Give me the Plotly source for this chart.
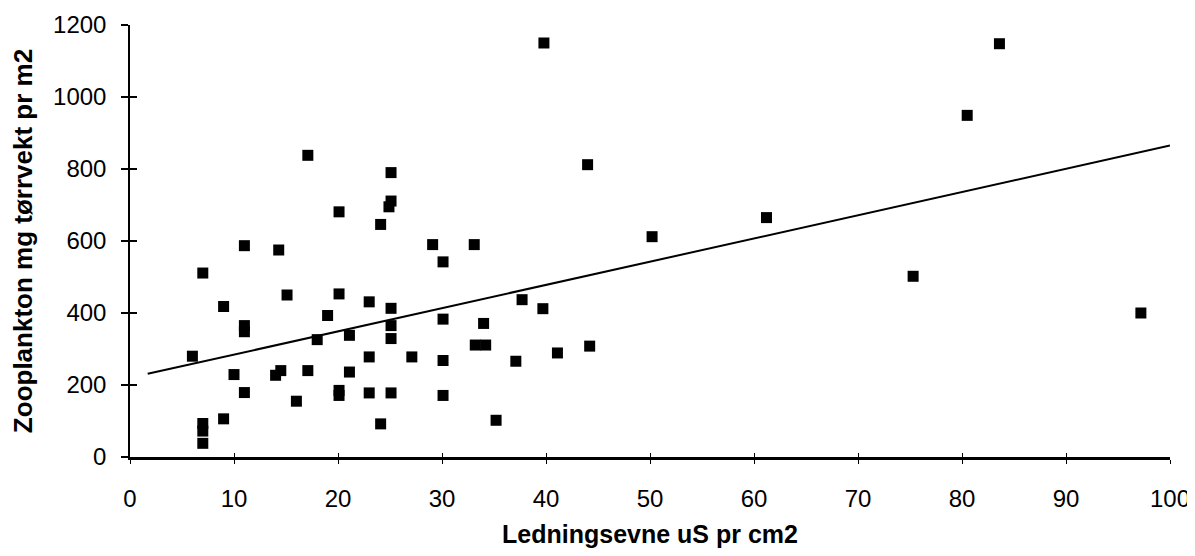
import plotly.graph_objects as go

# Conductivity (uS per cm2) for each sampled lake
conductivity = [17.1, 20.1, 11.0, 14.3, 7.0, 15.1, 20.1, 23.0, 9.0, 19.0,
                11.0, 11.0, 21.1, 18.0, 6.0, 23.0, 10.0, 14.0, 14.5, 17.1,
                21.1, 11.0, 16.0, 20.1, 20.1, 23.0, 9.0, 7.0, 7.0, 7.0,
                25.1, 25.1, 24.9, 24.1, 29.1, 33.1, 30.1, 25.1, 30.1, 25.1,
                34.0, 25.1, 33.2, 34.2, 27.1, 30.1, 25.1, 30.1, 24.1, 35.2,
                39.8, 44.0, 61.2, 50.2, 37.7, 39.7, 37.1, 41.1, 44.2, 75.3,
                80.5, 83.6, 97.2]
# Zooplankton dry weight (mg per m2)
zooplankton = [838, 681, 587, 575, 511, 450, 453, 431, 418, 393,
               365, 348, 338, 326, 280, 278, 229, 227, 240, 240,
               236, 179, 155, 171, 185, 178, 106, 93, 72, 38,
               790, 711, 695, 646, 590, 590, 542, 413, 383, 365,
               371, 329, 311, 311, 278, 268, 178, 171, 92, 102,
               1150, 812, 665, 612, 437, 412, 266, 289, 308, 502,
               949, 1148, 400]

# Linear trend line end points
trend_x = [1.7, 100]
trend_y = [231, 865]

x_ticks = [0, 10, 20, 30, 40, 50, 60, 70, 80, 90, 100]
y_ticks = [0, 200, 400, 600, 800, 1000, 1200]

x_title = "Ledningsevne uS pr cm2"
y_title = "Zooplankton mg tørrvekt pr m2"

font_family = "Liberation Sans, Arial, Helvetica, sans-serif"

fig = go.Figure()
fig.add_trace(go.Scatter(
    x=conductivity, y=zooplankton, mode="markers",
    marker=dict(symbol="square", size=11, color="black", line=dict(width=0)),
    showlegend=False, hoverinfo="x+y",
))
fig.add_trace(go.Scatter(
    x=trend_x, y=trend_y, mode="lines",
    line=dict(color="black", width=2),
    xaxis="x2", yaxis="y2", showlegend=False, hoverinfo="skip",
))

common_x = dict(range=[0, 100], tickvals=x_ticks, showgrid=False, zeroline=False,
                automargin=False)
common_y = dict(range=[0, 1200], tickvals=y_ticks, showgrid=False, zeroline=False,
                automargin=False)

# The page body adds an 8px margin around the figure, so the figure is sized
# to fit inside the 1195x556 window.
fig.update_layout(
    width=1187, height=540,
    margin=dict(l=122, r=25, t=17, b=91, pad=0),
    paper_bgcolor="white", plot_bgcolor="white",
    font=dict(family=font_family, color="black", size=24),
    xaxis=dict(
        **common_x,
        showline=True, linecolor="black", linewidth=2.5,
        ticks="outside", ticklen=4, tickwidth=1, tickcolor="black",
        tickfont=dict(size=24, family=font_family, color="black"),
        ticklabelstandoff=14,
        ticklabeloverflow="allow",
        title=dict(text="<b>" + x_title + "</b>",
                   font=dict(size=25, family=font_family, color="black"),
                   standoff=23),
    ),
    yaxis=dict(
        **common_y,
        showline=True, linecolor="black", linewidth=1.5,
        ticks="outside", ticklen=7, tickwidth=1.5, tickcolor="black",
        tickfont=dict(size=24, family=font_family, color="black"),
        ticklabelstandoff=10,
        title=dict(text="<b>" + y_title + "</b>",
                   font=dict(size=26, family=font_family, color="black"),
                   standoff=16),
    ),
    xaxis2=dict(
        **common_x, overlaying="x", side="bottom", anchor="y2",
        showline=False, showticklabels=False,
        ticks="inside", ticklen=4, tickwidth=1, tickcolor="black",
    ),
    yaxis2=dict(
        **common_y, overlaying="y", side="left", anchor="x2",
        showline=False, showticklabels=False,
        ticks="inside", ticklen=7, tickwidth=1.5, tickcolor="black",
    ),
)

fig.write_html("out.html")
